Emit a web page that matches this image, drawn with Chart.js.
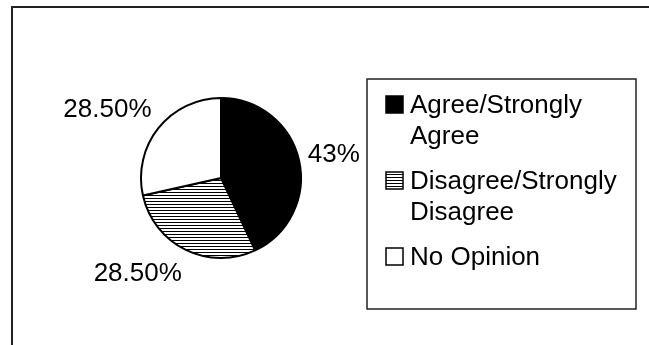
<!DOCTYPE html>
<html>
<head>
<meta charset="utf-8">
<script src="https://cdn.jsdelivr.net/npm/chart.js@4/dist/chart.umd.min.js"></script>
<style>
  html, body { margin: 0; padding: 0; background: #fff; }
  #wrap { width: 649px; height: 345px; }
</style>
</head>
<body>
<div id="wrap"><canvas id="chart" width="649" height="345"></canvas></div>
<script>
const labels = ["Agree/Strongly Agree", "Disagree/Strongly Disagree", "No Opinion"]
const values = [43, 28.5, 28.5]

const FONT = '26px "Liberation Sans", Arial, Helvetica, sans-serif'

// 43 -> "43%", 28.5 -> "28.50%"
const fmt = v => Number.isInteger(v) ? v + '%' : v.toFixed(2) + '%'

const canvas = document.getElementById('chart')

// horizontal line hatch for the middle slice
const hatch = (() => {
    const c = document.createElement('canvas')
    c.width = 8
    c.height = 3
    const g = c.getContext('2d')
    g.fillStyle = '#fff'
    g.fillRect(0, 0, 8, 3)
    g.fillStyle = '#000'
    g.fillRect(0, 0, 8, 1)
    return canvas.getContext('2d').createPattern(c, 'repeat')
})()

const fills = ['#000', hatch, '#fff']

// open frame along the left and top edges
const frame = {
    id: 'frame',
    beforeDraw(chart) {
        const ctx = chart.ctx
        ctx.save()
        ctx.strokeStyle = '#222'
        ctx.lineWidth = 2
        ctx.beginPath()
        ctx.moveTo(12, 345)
        ctx.lineTo(12, 7)
        ctx.lineTo(649, 7)
        ctx.stroke()
        ctx.restore()
    }
}

// percentage labels just outside each slice
const sliceLabels = {
    id: 'sliceLabels',
    afterDatasetsDraw(chart) {
        const ctx = chart.ctx
        const meta = chart.getDatasetMeta(0)
        ctx.save()
        ctx.font = FONT
        ctx.fillStyle = '#000'
        ctx.textBaseline = 'middle'
        meta.data.forEach((arc, i) => {
            const p = arc.getProps(['x', 'y', 'startAngle', 'endAngle', 'outerRadius'], true)
            const mid = (p.startAngle + p.endAngle) / 2
            const cos = Math.cos(mid)
            const sin = Math.sin(mid)
            const d = p.outerRadius + 9
            const ax = p.x + cos * d
            const ay = p.y + sin * d
            const k = sin / Math.max(Math.abs(cos), Math.abs(sin))
            ctx.textAlign = cos >= 0 ? 'left' : 'right'
            ctx.fillText(fmt(values[i]), ax, ay + k * 16)
        })
        ctx.restore()
    }
}

// boxed legend with wrapped entries
const boxLegend = {
    id: 'boxLegend',
    afterDraw(chart) {
        const ctx = chart.ctx
        const box = { x: 367, y: 79, w: 269, h: 230 }
        const markX = 386
        const markSize = 17
        const textX = 410
        const maxW = box.x + box.w - textX - 6
        const lineH = 31
        const itemGap = 14
        ctx.save()
        ctx.strokeStyle = '#222'
        ctx.lineWidth = 1.5
        ctx.strokeRect(box.x, box.y, box.w, box.h)

        ctx.font = FONT
        ctx.textAlign = 'left'
        ctx.textBaseline = 'alphabetic'
        let base = 113
        labels.forEach((label, i) => {
            const lines = []
            let cur = ''
            label.split(' ').forEach(word => {
                const test = cur ? cur + ' ' + word : word
                if (cur && ctx.measureText(test).width > maxW) {
                    lines.push(cur)
                    cur = word
                } else {
                    cur = test
                }
            })
            lines.push(cur)

            ctx.fillStyle = fills[i]
            ctx.fillRect(markX, base - markSize, markSize, markSize)
            ctx.strokeStyle = '#000'
            ctx.lineWidth = 1.5
            ctx.strokeRect(markX, base - markSize, markSize, markSize)

            ctx.fillStyle = '#000'
            lines.forEach((ln, j) => ctx.fillText(ln, textX, base + j * lineH))
            base += lines.length * lineH + itemGap
        })
        ctx.restore()
    }
}

new Chart(canvas, {
    type: 'pie',
    data: {
        labels: labels,
        datasets: [{
            data: values,
            backgroundColor: fills,
            borderColor: '#000',
            borderWidth: 2,
            radius: 80
        }]
    },
    options: {
        responsive: false,
        animation: false,
        layout: {
            padding: { left: 120, right: 327, top: 60, bottom: 49 }
        },
        plugins: {
            legend: { display: false },
            tooltip: { enabled: false }
        }
    },
    plugins: [frame, sliceLabels, boxLegend]
})
</script>
</body>
</html>
